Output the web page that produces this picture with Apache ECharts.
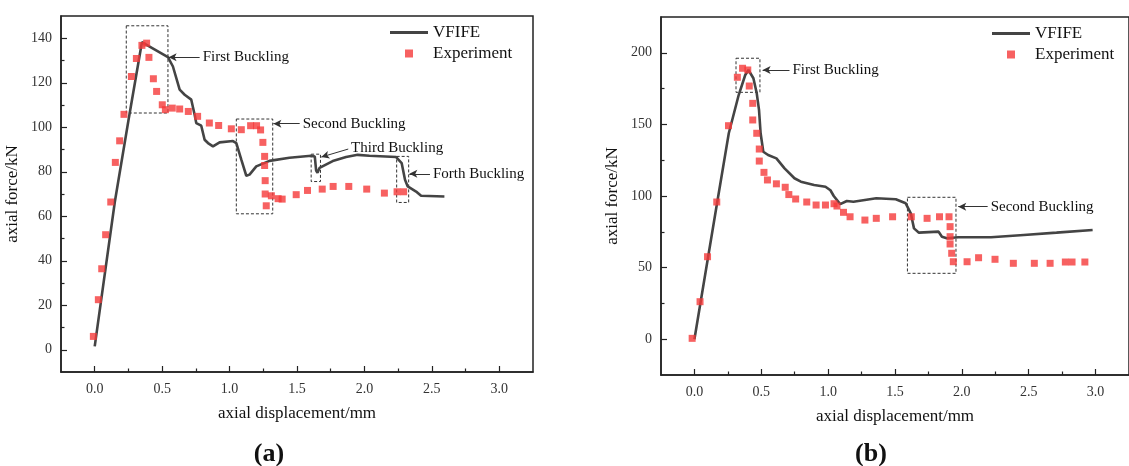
<!DOCTYPE html>
<html>
<head>
<meta charset="utf-8">
<script src="https://cdn.jsdelivr.net/npm/echarts@6/dist/echarts.min.js"></script>
<style>
  html, body { margin: 0; padding: 0; background: #fff; }
  #chart { width: 1129px; height: 466px; }
</style>
</head>
<body>
<div id="chart"></div>
<script>
// ---- (a) data ----
const aVfifeX = [0.0, 0.149, 0.25, 0.35, 0.375, 0.543, 0.58, 0.63, 0.667, 0.716, 0.741, 0.753, 0.79, 0.815, 0.84, 0.877, 0.926, 1.025, 1.05, 1.087, 1.124, 1.148, 1.198, 1.296, 1.444, 1.605, 1.632, 1.642, 1.652, 1.667, 1.765, 1.864, 1.95, 2.037, 2.235, 2.276, 2.301, 2.321, 2.383, 2.42, 2.593];
const aVfifeY = [1.5, 66.4, 103, 138.2, 137.4, 131.5, 127.3, 116.9, 114.6, 112.4, 105.6, 101.9, 100.7, 94.4, 92.9, 91.4, 93.2, 93.8, 92.9, 85.4, 78.2, 78.7, 82.4, 84.9, 86.3, 87.2, 86.8, 80.5, 79.5, 81.7, 84.8, 86.6, 87.6, 87.2, 86.6, 83.9, 76.4, 73.4, 71.1, 69.2, 68.9];
const aExpX = [-0.01, 0.027, 0.052, 0.081, 0.119, 0.153, 0.185, 0.217, 0.272, 0.309, 0.35, 0.385, 0.402, 0.435, 0.459, 0.501, 0.524, 0.575, 0.63, 0.694, 0.763, 0.85, 0.919, 1.013, 1.087, 1.156, 1.2, 1.23, 1.247, 1.26, 1.26, 1.264, 1.264, 1.272, 1.31, 1.36, 1.39, 1.494, 1.578, 1.687, 1.768, 1.884, 2.017, 2.148, 2.242, 2.291];
const aExpY = [6.0, 22.5, 36.4, 51.7, 66.4, 84.2, 93.9, 105.8, 122.8, 130.9, 136.8, 137.8, 131.4, 121.8, 116.1, 110.1, 107.9, 108.6, 108.2, 107.1, 104.9, 101.9, 100.8, 99.3, 98.9, 100.7, 100.7, 98.8, 93.2, 86.9, 82.8, 76.0, 70.0, 64.7, 69.2, 67.9, 67.7, 69.7, 71.6, 72.2, 73.4, 73.4, 72.2, 70.4, 71.0, 71.0];

// ---- (b) data ----
const bVfifeX = [0.0, 0.171, 0.257, 0.331, 0.38, 0.404, 0.441, 0.466, 0.483, 0.495, 0.515, 0.551, 0.613, 0.674, 0.748, 0.796, 0.895, 0.98, 1.017, 1.042, 1.09, 1.14, 1.189, 1.36, 1.506, 1.58, 1.618, 1.642, 1.679, 1.826, 1.851, 1.888, 1.973, 2.218, 2.463, 2.708, 2.978];
const bVfifeY = [0.0, 96.0, 143.8, 170.5, 184.5, 188.0, 182.2, 171.7, 160.1, 143.8, 130.9, 128.6, 126.3, 119.3, 112.4, 110.0, 107.7, 106.5, 104.0, 100.0, 94.3, 96.5, 96.0, 98.4, 97.7, 94.9, 87.9, 77.4, 74.4, 75.1, 71.6, 70.5, 71.2, 71.2, 72.8, 74.4, 76.3];
const bExpX = [-0.017, 0.042, 0.098, 0.167, 0.255, 0.321, 0.36, 0.399, 0.41, 0.436, 0.436, 0.466, 0.485, 0.485, 0.52, 0.546, 0.613, 0.679, 0.706, 0.757, 0.84, 0.91, 0.98, 1.044, 1.066, 1.115, 1.164, 1.275, 1.36, 1.482, 1.622, 1.74, 1.833, 1.904, 1.912, 1.912, 1.912, 1.924, 1.936, 2.039, 2.125, 2.248, 2.385, 2.542, 2.66, 2.774, 2.824, 2.92];
const bExpY = [0.6, 26.2, 57.6, 95.8, 149.1, 182.9, 189.2, 188.0, 176.8, 164.7, 153.1, 143.8, 132.8, 124.4, 116.5, 111.2, 108.5, 106.1, 101.0, 97.9, 95.8, 93.7, 93.7, 94.6, 93.0, 88.6, 85.5, 83.2, 84.4, 85.5, 85.5, 84.4, 85.5, 85.5, 78.6, 71.6, 66.5, 60.0, 54.1, 54.1, 56.9, 55.8, 53.0, 53.0, 53.0, 53.9, 53.9, 53.9];

// ---- ticks ----
const xMajor = [0, 0.5, 1.0, 1.5, 2.0, 2.5, 3.0];
const xMinor = [0.25, 0.75, 1.25, 1.75, 2.25, 2.75];
const aYMajor = [0, 20, 40, 60, 80, 100, 120, 140];
const aYMinor = [10, 30, 50, 70, 90, 110, 130];
const bYMajor = [0, 50, 100, 150, 200];
const bYMinor = [25, 75, 125, 175];

// ---- annotations: [label, boxFrom, boxTo, arrowFrom, arrowTo] ----
const aNotes = [
  ['First Buckling', [0.234, 145.6], [0.543, 106.4], [0.778, 131.5], [0.548, 131.5]],
  ['Second Buckling', [1.05, 103.7], [1.32, 61.1], [1.52, 101.6], [1.325, 101.6]],
  ['Third Buckling', [1.605, 87.9], [1.674, 75.6], [1.88, 90.2], [1.68, 86.6]],
  ['Forth Buckling', [2.239, 86.9], [2.328, 66.2], [2.486, 79.1], [2.333, 79.1]]
];
const bNotes = [
  ['First Buckling', [0.311, 196.2], [0.49, 172.4], [0.711, 188], [0.51, 188]],
  ['Second Buckling', [1.593, 99.1], [1.956, 46.0], [2.193, 92.5], [1.973, 92.5]]
];

const FONT = '"Liberation Serif", "DejaVu Serif", serif';
const zip = (xs, ys) => xs.map((x, i) => [x, ys[i]]);

function mainX(grid, name) {
  return {
    type: 'value', gridIndex: grid, position: 'bottom', min: -0.25, max: 3.25,
    name: name, nameLocation: 'middle', nameGap: 33,
    nameTextStyle: { fontFamily: FONT, fontSize: 17, color: '#111' },
    axisLine: { show: true, onZero: false, lineStyle: { color: '#222', width: 1.5 } },
    axisTick: { inside: true, length: 6, customValues: xMajor, lineStyle: { color: '#222', width: 1.2 } },
    axisLabel: { customValues: xMajor, formatter: v => v.toFixed(1), margin: 10, fontFamily: FONT, fontSize: 14, color: '#333' },
    splitLine: { show: false }
  };
}
function minorX(grid) {
  return {
    type: 'value', gridIndex: grid, position: 'bottom', min: -0.25, max: 3.25,
    axisLine: { show: false, onZero: false },
    axisTick: { inside: true, length: 3.5, customValues: xMinor, lineStyle: { color: '#222', width: 1.2 } },
    axisLabel: { show: false },
    splitLine: { show: false }
  };
}
function mainY(grid, min, max, ticks) {
  return {
    type: 'value', gridIndex: grid, position: 'left', min: min, max: max,
    name: 'axial force/kN', nameLocation: 'middle', nameGap: 40,
    nameTextStyle: { fontFamily: FONT, fontSize: 17, color: '#111' },
    axisLine: { show: true, onZero: false, lineStyle: { color: '#222', width: 1.5 } },
    axisTick: { inside: true, length: 6, customValues: ticks, lineStyle: { color: '#222', width: 1.2 } },
    axisLabel: { customValues: ticks, margin: 9, fontFamily: FONT, fontSize: 14, color: '#333' },
    splitLine: { show: false }
  };
}
function minorY(grid, min, max, ticks) {
  return {
    type: 'value', gridIndex: grid, position: 'left', min: min, max: max,
    axisLine: { show: false, onZero: false },
    axisTick: { inside: true, length: 3.5, customValues: ticks, lineStyle: { color: '#222', width: 1.2 } },
    axisLabel: { show: false },
    splitLine: { show: false }
  };
}

function noteAreas(notes) {
  return {
    silent: true,
    itemStyle: { color: 'rgba(0,0,0,0)', borderColor: '#333', borderWidth: 1, borderType: [3, 2] },
    label: { show: false },
    data: notes.map(n => [{ coord: n[1] }, { coord: n[2] }])
  };
}
function noteLines(notes) {
  return {
    silent: true,
    symbol: ['none', 'arrow'],
    symbolSize: [6, 8],
    lineStyle: { color: '#333', width: 1, type: 'solid' },
    label: { show: true, position: 'start', distance: 3, formatter: '{b}', fontFamily: FONT, fontSize: 15, color: '#111' },
    data: notes.map(n => [{ name: n[0], coord: n[3] }, { coord: n[4] }])
  };
}

function legendAt(left, top) {
  return {
    left: left, top: top, orient: 'vertical', itemWidth: 38, itemHeight: 8, itemGap: 4,
    selectedMode: false,
    textStyle: { fontFamily: FONT, fontSize: 17, color: '#111' },
    data: [
      { name: 'VFIFE', icon: 'path://M0,0L40,0L40,3L0,3Z', itemStyle: { color: '#444' } },
      { name: 'Experiment', icon: 'path://M0,0L1,0L1,1L0,1Z' }
    ]
  };
}

const chart = echarts.init(document.getElementById('chart'), null, { renderer: 'canvas' });
chart.setOption({
  animation: false,
  backgroundColor: '#fff',
  title: [
    { text: '(a)', left: 264, top: 436, textAlign: 'center', textStyle: { fontFamily: FONT, fontSize: 26, fontWeight: 'bold', color: '#111' } },
    { text: '(b)', left: 866, top: 436, textAlign: 'center', textStyle: { fontFamily: FONT, fontSize: 26, fontWeight: 'bold', color: '#111' } }
  ],
  legend: [legendAt(385, 19), legendAt(987, 20)],
  grid: [
    { left: 61, top: 16, width: 472, height: 356, show: true, borderColor: '#222', borderWidth: 1.5 },
    { left: 661, top: 17, width: 476, height: 358, show: true, borderColor: '#222', borderWidth: 1.5 }
  ],
  xAxis: [mainX(0, 'axial displacement/mm'), minorX(0), mainX(1, 'axial displacement/mm'), minorX(1)],
  yAxis: [mainY(0, -10, 150, aYMajor), minorY(0, -10, 150, aYMinor), mainY(1, -25, 225, bYMajor), minorY(1, -25, 225, bYMinor)],
  series: [
    {
      name: 'VFIFE', type: 'line', xAxisIndex: 0, yAxisIndex: 0, data: zip(aVfifeX, aVfifeY),
      showSymbol: false, symbol: 'none', lineStyle: { color: '#444', width: 2.6 }, itemStyle: { color: '#444' },
      markArea: noteAreas(aNotes), markLine: noteLines(aNotes), z: 3
    },
    {
      name: 'Experiment', type: 'scatter', xAxisIndex: 0, yAxisIndex: 0, data: zip(aExpX, aExpY),
      symbol: 'rect', symbolSize: 7, itemStyle: { color: '#f53a3a' }, z: 4
    },
    {
      name: 'VFIFE', type: 'line', xAxisIndex: 2, yAxisIndex: 2, data: zip(bVfifeX, bVfifeY),
      showSymbol: false, symbol: 'none', lineStyle: { color: '#444', width: 2.6 }, itemStyle: { color: '#444' },
      markArea: noteAreas(bNotes), markLine: noteLines(bNotes), z: 3
    },
    {
      name: 'Experiment', type: 'scatter', xAxisIndex: 2, yAxisIndex: 2, data: zip(bExpX, bExpY),
      symbol: 'rect', symbolSize: 7, itemStyle: { color: '#f53a3a' }, z: 4
    }
  ]
});
</script>
</body>
</html>
